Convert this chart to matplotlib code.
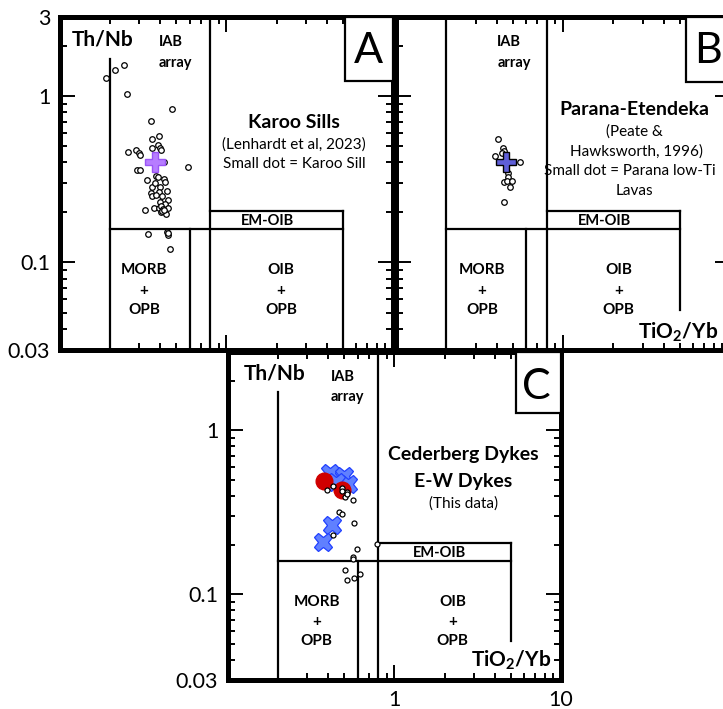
import matplotlib
matplotlib.use('Agg')
import matplotlib.pyplot as plt
from matplotlib.patches import Rectangle
from matplotlib.ticker import FixedLocator, FixedFormatter, NullFormatter

plt.rcParams['font.family'] = ['Lato', 'DejaVu Sans']
plt.rcParams['mathtext.fontset'] = 'custom'
plt.rcParams['mathtext.rm'] = 'Lato'
plt.rcParams['mathtext.bf'] = 'Lato:bold'

# field boundaries (TiO2/Yb vs Th/Nb)
iab_left = 0.2
iab_right = 0.8
morb_right = 0.6
oib_right = 5
base_th = 0.16
em_top = 0.205

# --- A: Karoo sills (Lenhardt et al, 2023) ---
karoo_x = [0.188, 0.213, 0.243, 0.254, 0.469, 0.354, 0.359, 0.393, 0.359, 0.388,
           0.397, 0.406, 0.255, 0.285, 0.298, 0.301, 0.420, 0.586, 0.290, 0.303,
           0.332, 0.379, 0.388, 0.420, 0.427, 0.357, 0.397, 0.374, 0.354, 0.393,
           0.439, 0.359, 0.379, 0.410, 0.443, 0.397, 0.425, 0.365, 0.393, 0.406,
           0.415, 0.448, 0.326, 0.406, 0.435, 0.410, 0.420, 0.338, 0.439, 0.448,
           0.443, 0.460]
karoo_y = [1.28, 1.44, 1.54, 1.03, 0.84, 0.71, 0.55, 0.575, 0.49, 0.51,
           0.488, 0.474, 0.463, 0.474, 0.453, 0.443, 0.401, 0.377, 0.359, 0.362,
           0.314, 0.329, 0.326, 0.318, 0.304, 0.284, 0.284, 0.301, 0.262, 0.265,
           0.269, 0.251, 0.253, 0.251, 0.239, 0.231, 0.226, 0.214, 0.213, 0.219,
           0.211, 0.213, 0.206, 0.201, 0.196, 0.205, 0.208, 0.148, 0.153, 0.146,
           0.150, 0.120]
karoo_mean_x = [0.37]
karoo_mean_y = [0.40]

# --- B: Parana-Etendeka low-Ti lavas ---
parana_x = [0.410, 0.439, 0.443, 0.390, 0.433, 0.555, 0.470, 0.467, 0.443, 0.462,
            0.493, 0.480, 0.445]
parana_y = [0.552, 0.485, 0.470, 0.439, 0.455, 0.401, 0.343, 0.326, 0.304, 0.307,
            0.307, 0.286, 0.231]
parana_mean_x = [0.454]
parana_mean_y = [0.40]

# --- C: Cederberg / E-W dykes (this data) ---
dyke_x = [0.391, 0.425, 0.515, 0.503, 0.560, 0.481, 0.481, 0.520, 0.465, 0.483,
          0.570, 0.425, 0.597, 0.560, 0.560, 0.780, 0.503, 0.619, 0.570, 0.520]
dyke_y = [0.431, 0.457, 0.421, 0.389, 0.378, 0.446, 0.425, 0.411, 0.318, 0.310,
          0.272, 0.229, 0.188, 0.169, 0.163, 0.203, 0.140, 0.132, 0.125, 0.122]
cederberg_x = [0.409, 0.496, 0.525, 0.444, 0.419, 0.373]
cederberg_y = [0.547, 0.524, 0.469, 0.482, 0.264, 0.208]
ew_x = [0.378, 0.485]
ew_y = [0.489, 0.435]

W, H = 723, 709
fig = plt.figure(figsize=(W / 100, H / 100), dpi=100)


def px_axes(left, top, right, bottom):
    return fig.add_axes([left / W, 1 - bottom / H, (right - left) / W, (bottom - top) / H])


def setup_panel(ax, iab_top, oib_bottom, ylabels, xlabels):
    ax.set_xscale('log')
    ax.set_yscale('log')
    ax.set_xlim(0.1, 10)
    ax.set_ylim(0.03, 3)
    for s in ax.spines.values():
        s.set_linewidth(3.6)
    ax.tick_params(which='both', direction='in', top=True, right=True, width=1.4,
                   labelsize=15.5, pad=7)
    ax.tick_params(which='major', length=11)
    ax.tick_params(which='minor', length=5)
    ax.yaxis.set_major_locator(FixedLocator([0.03, 0.1, 1, 3]))
    if ylabels == 'all':
        ylab = ['0.03', '0.1', '1', '3']
    elif ylabels:
        ylab = ['0.03', '0.1', '1', '']
    else:
        ylab = ['', '', '', '']
    ax.yaxis.set_major_formatter(FixedFormatter(ylab))
    ax.yaxis.set_minor_locator(FixedLocator([0.04, 0.05, 0.06, 0.07, 0.08, 0.09,
                                             0.2, 0.3, 0.4, 0.5, 0.6, 0.7, 0.8, 0.9, 2]))
    ax.yaxis.set_minor_formatter(NullFormatter())
    ax.xaxis.set_major_locator(FixedLocator([0.1, 1, 10]))
    ax.xaxis.set_major_formatter(FixedFormatter(['', '1', '10'] if xlabels else ['', '', '']))
    ax.xaxis.set_minor_locator(FixedLocator([0.2, 0.3, 0.4, 0.5, 0.6, 0.7, 0.8, 0.9,
                                             2, 3, 4, 5, 6, 7, 8, 9]))
    ax.xaxis.set_minor_formatter(NullFormatter())

    lk = dict(color='black', lw=1.6, zorder=2)
    ax.plot([iab_left, iab_left], [0.03, iab_top], **lk)
    ax.plot([iab_right, iab_right], [0.03, 3], **lk)
    ax.plot([morb_right, morb_right], [0.03, base_th], **lk)
    ax.plot([iab_left, oib_right], [base_th, base_th], **lk)
    ax.plot([iab_right, oib_right], [em_top, em_top], **lk)
    ax.plot([oib_right, oib_right], [oib_bottom, em_top], **lk)


def field_labels(ax, iab_fx, em_fx, morb_fx, oib_fx):
    b = dict(transform=ax.transAxes, fontweight='bold', ha='center', va='center')
    ax.text(iab_fx, 0.924, 'IAB', fontsize=10.5, ha='left', va='center',
            fontweight='bold', transform=ax.transAxes)
    ax.text(iab_fx, 0.862, 'array', fontsize=10.5, ha='left', va='center',
            fontweight='bold', transform=ax.transAxes)
    ax.text(em_fx, 0.386, 'EM-OIB', fontsize=10.5, **b)
    for fx, name in [(morb_fx, 'MORB'), (oib_fx, 'OIB')]:
        ax.text(fx, 0.239, name, fontsize=11, **b)
        ax.text(fx, 0.177, '+', fontsize=11, **b)
        ax.text(fx, 0.119, 'OPB', fontsize=11, **b)


def letter_box(ax, x0, y0, letter, lx, ly):
    ax.add_patch(Rectangle((x0, y0), 1 - x0, 1 - y0, transform=ax.transAxes,
                           facecolor='white', edgecolor='black', lw=1.6, zorder=5))
    ax.text(lx, ly, letter, transform=ax.transAxes, fontsize=31, ha='center',
            va='center', zorder=6)


small = dict(ls='none', marker='o', ms=4.0, mfc='white', mec='black', mew=0.9, zorder=3)

# ---------- panel A ----------
axA = px_axes(60, 16.7, 393, 349.5)
setup_panel(axA, 1.66, 0.03, 'all', False)
axA.plot(karoo_x, karoo_y, **small)
axA.plot(karoo_mean_x, karoo_mean_y, ls='none', marker='P', ms=15,
         mfc='#b77dff', mec='#9a55f5', mew=1, zorder=4)
axA.text(0.129, 0.93, 'Th/Nb', transform=axA.transAxes, fontsize=15,
         fontweight='bold', ha='center', va='center')
axA.text(0.703, 0.683, 'Karoo Sills', transform=axA.transAxes, fontsize=14,
         fontweight='bold', ha='center', va='center')
axA.text(0.703, 0.617, '(Lenhardt et al, 2023)', transform=axA.transAxes,
         fontsize=11, ha='center', va='center')
axA.text(0.703, 0.557, 'Small dot = Karoo Sill', transform=axA.transAxes,
         fontsize=11, ha='center', va='center')
field_labels(axA, 0.297, 0.622, 0.252, 0.664)
letter_box(axA, 0.856, 0.806, 'A', 0.925, 0.897)

# ---------- panel B ----------
axB = px_axes(396, 16.7, 730, 349.5)
setup_panel(axB, 3, 0.052, None, False)
axB.plot(parana_x, parana_y, **small)
axB.plot(parana_mean_x, parana_mean_y, ls='none', marker='P', ms=15,
         mfc='#5f5fd8', mec='black', mew=1, zorder=4)
axB.text(0.715, 0.722, 'Parana-Etendeka', transform=axB.transAxes, fontsize=14,
         fontweight='bold', ha='center', va='center')
axB.text(0.715, 0.656, '(Peate &', transform=axB.transAxes, fontsize=11,
         ha='center', va='center')
axB.text(0.72, 0.596, 'Hawksworth, 1996)', transform=axB.transAxes, fontsize=11,
         ha='center', va='center')
axB.text(0.70, 0.536, 'Small dot = Parana low-Ti', transform=axB.transAxes,
         fontsize=11, ha='center', va='center')
axB.text(0.715, 0.476, 'Lavas', transform=axB.transAxes, fontsize=11,
         ha='center', va='center')
axB.text(0.844, 0.053, r'TiO$_\mathbf{2}$/Yb', transform=axB.transAxes,
         fontsize=15, fontweight='bold', ha='center', va='center')
field_labels(axB, 0.303, 0.625, 0.257, 0.666)
letter_box(axB, 0.867, 0.803, 'B', 0.935, 0.896)

# ---------- panel C ----------
axC = px_axes(228, 352, 561, 680)
setup_panel(axC, 1.71, 0.052, True, True)
axC.plot(cederberg_x, cederberg_y, ls='none', marker='X', ms=13,
         mfc='#6080ff', mec='#2040ff', mew=0.9, zorder=3)
axC.plot(ew_x, ew_y, ls='none', marker='o', ms=12, mfc='#d00000',
         mec='#d00000', zorder=4)
axC.plot(dyke_x, dyke_y, **dict(small, ms=3.6, zorder=5))
axC.text(0.141, 0.935, 'Th/Nb', transform=axC.transAxes, fontsize=15,
         fontweight='bold', ha='center', va='center')
axC.text(0.707, 0.686, 'Cederberg Dykes', transform=axC.transAxes, fontsize=14,
         fontweight='bold', ha='center', va='center')
axC.text(0.707, 0.605, 'E-W Dykes', transform=axC.transAxes, fontsize=14,
         fontweight='bold', ha='center', va='center')
axC.text(0.707, 0.537, '(This data)', transform=axC.transAxes, fontsize=11,
         ha='center', va='center')
axC.text(0.849, 0.061, r'TiO$_\mathbf{2}$/Yb', transform=axC.transAxes,
         fontsize=15, fontweight='bold', ha='center', va='center')
field_labels(axC, 0.308, 0.635, 0.266, 0.675)
letter_box(axC, 0.865, 0.815, 'C', 0.927, 0.894)

fig.savefig('out.png', dpi=100)
